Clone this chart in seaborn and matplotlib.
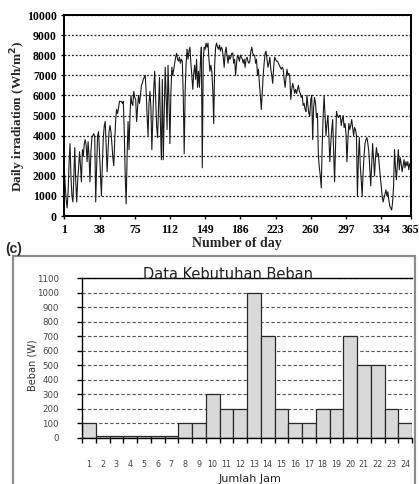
import matplotlib
matplotlib.use("Agg")
import matplotlib.pyplot as plt
import numpy as np
import pandas as pd
import seaborn as sns
from matplotlib.patches import Rectangle

# top panel: daily irradiation (Wh/m2, day 1..365)
IRRADIATION = [
    2300, 1500, 800, 400, 1200, 2600, 3600, 2000, 1000, 700,
    1900, 3400, 1800, 700, 1700, 2400, 3200, 2500, 1700, 3300,
    3000, 3600, 3800, 3500, 2700, 3700, 3000, 1700, 3200, 3900,
    4000, 4100, 3900, 700, 2500, 4000, 4200, 3100, 2000, 1000,
    2600, 3900, 4500, 4700, 3500, 2200, 3300, 4200, 4500, 4200,
    3600, 2900, 2500, 3800, 4800, 5300, 5100, 5400, 5700, 5700,
    5700, 5600, 5700, 4200, 2000, 600, 3000, 4700, 3300, 5000,
    6000, 5600, 5500, 6200, 5900, 5800, 4700, 5400, 6000, 5600,
    6000, 6500, 6600, 6800, 6900, 7000, 6200, 5000, 4000, 5600,
    6200, 5400, 3300, 4800, 6300, 7200, 5800, 4500, 3900, 5400,
    6900, 4600, 2800, 6800, 2800, 5200, 7400, 6000, 4300, 7500,
    5800, 3600, 6100, 7400, 7000, 7300, 7600, 7900, 8100, 7800,
    7700, 7900, 7600, 7800, 7700, 6000, 3100, 6200, 7600, 8300,
    7800, 8200, 8400, 7600, 7000, 6300, 7100, 7500, 6800, 7800,
    6400, 7200, 6400, 7600, 8400, 2400, 7800, 8400, 8300, 8600,
    8400, 8600, 7800, 7200, 7500, 7200, 6300, 4600, 7500, 8400,
    8600, 8400, 8300, 8500, 8200, 8400, 8300, 7900, 7400, 8100,
    8400, 8000, 7600, 8000, 7800, 7900, 8100, 8100, 7600, 7800,
    7000, 7600, 8000, 7900, 7700, 8000, 7900, 7800, 7600, 7800,
    7400, 7800, 7900, 7700, 7600, 7700, 8200, 8400, 8100, 8000,
    8000, 7600, 7800, 7000, 7300, 6600, 6000, 5300, 6200, 7000,
    7600, 8100, 8200, 7800, 7400, 7600, 7900, 7300, 7000, 6600,
    7400, 7900, 7800, 7700, 7700, 7600, 7500, 7400, 7300, 7400,
    7300, 6800, 6400, 6900, 7300, 7000, 7100, 6900, 5800, 6300,
    6600, 6400, 6100, 6300, 6100, 6300, 6500, 6200, 6100, 5900,
    6000, 5500, 5600, 5300, 5200, 6000, 5500, 5100, 5000, 5800,
    6000, 3800, 5400, 5900, 5600, 4900, 5100, 3000, 2400, 2000,
    1400, 3500, 5000, 6000, 5000, 4000, 4600, 5000, 4000, 2700,
    3600, 4300, 4800, 3200, 1700, 3500, 5200, 5000, 4900, 5000,
    5000, 4500, 4800, 5000, 4400, 4600, 4100, 2700, 3800, 4600,
    4300, 4500, 4800, 4400, 4000, 4400, 4300, 4000, 1000, 2800,
    3900, 2500, 1800, 1000, 2200, 3000, 3600, 3800, 3900, 3600,
    3200, 2400, 1500, 2600, 3600, 2800, 2000, 2900, 3400, 3000,
    3100, 2500, 2000, 1500, 1000, 700, 900, 1100, 1300, 1000,
    1200, 800, 500, 400, 300, 700, 1500, 3300, 2400, 1800,
    2600, 3300, 2300, 2900, 2600, 2200, 2500, 2800, 2400, 2700,
    2500, 2700, 2300, 2600, 2600,
]
DAY_TICKS = [1, 38, 75, 112, 149, 186, 223, 260, 297, 334, 365]
IRR_TICKS = [0, 1000, 2000, 3000, 4000, 5000, 6000, 7000, 8000, 9000, 10000]

# bottom panel: load per hour
HOURS = [1, 2, 3, 4, 5, 6, 7, 8, 9, 10, 11, 12,
         13, 14, 15, 16, 17, 18, 19, 20, 21, 22, 23, 24]
LOAD_W = [100, 10, 10, 10, 10, 10, 10, 100, 100, 300, 200, 200,
          1000, 700, 200, 100, 100, 200, 200, 700, 500, 500, 200, 100]
LOAD_TICKS = [0, 100, 200, 300, 400, 500, 600, 700, 800, 900, 1000, 1100]

W, H = 419, 484


def fx(px):
    return px / W


def fy(px):
    return 1 - px / H


sns.set_theme(style="white")
plt.rcParams["font.family"] = ["DejaVu Sans"]

fig = plt.figure(figsize=(W / 100, H / 100), dpi=100)

# ---- top panel
serif = {"family": "Liberation Serif", "weight": "bold"}
ax1 = fig.add_axes([fx(64.3), fy(216), fx(410.7) - fx(64.3), fy(15) - fy(216)])
days = np.arange(1, len(IRRADIATION) + 1)
sns.lineplot(x=days, y=IRRADIATION, ax=ax1, color="#1a1a1a", linewidth=0.8)
ax1.set_xlim(1, 365)
ax1.set_ylim(0, 10000)
ax1.set_xticks(DAY_TICKS)
ax1.set_yticks(IRR_TICKS)
ax1.set_xticklabels([str(d) for d in DAY_TICKS], fontdict=serif, fontsize=8.5)
ax1.set_yticklabels([str(v) for v in IRR_TICKS], fontdict=serif, fontsize=8.5)
ax1.yaxis.grid(True, linestyle=(0, (1.5, 1.5)), color="#222222", linewidth=0.9)
ax1.xaxis.grid(False)
ax1.set_axisbelow(True)
for s in ax1.spines.values():
    s.set_color("black")
    s.set_linewidth(1.4)
ax1.tick_params(axis="both", which="major", length=2.5, width=1, color="black",
                pad=3, labelcolor="black", bottom=True, left=True)
ax1.set_xlabel("")
ax1.set_ylabel("")
fig.text(fx(18), fy(116), "Daily irradiation (Wh/m$^\\mathbf{2}$)", rotation=90,
         ha="center", va="center", fontsize=9.5, **serif)
fig.text(fx(237), fy(243), "Number of day", ha="center", va="center",
         fontsize=10, **serif)

fig.text(fx(5), fy(249), "(c)", ha="left", va="center", fontsize=10,
         fontweight="bold", family="Liberation Sans")

# ---- bottom panel, framed like a spreadsheet chart
fig.patches.append(Rectangle((fx(13), -0.02), fx(415) - fx(13), fy(256) + 0.02,
                             transform=fig.transFigure, fill=False,
                             edgecolor="#8c8c8c", linewidth=1.6))

ax2 = fig.add_axes([fx(82), fy(437.7), fx(412) - fx(82), fy(278.3) - fy(437.7)])
load = pd.DataFrame({"jam": HOURS, "beban": LOAD_W})
sns.barplot(data=load, x="jam", y="beban", ax=ax2, color="#d9d9d9",
            edgecolor="#2a2a2a", linewidth=0.9, width=1.0, saturation=1)
ax2.set_xlim(-0.5, 23.5)
ax2.set_ylim(0, 1100)
ax2.set_yticks(LOAD_TICKS)
ax2.set_yticklabels([str(v) for v in LOAD_TICKS], fontsize=6.2, color="#444444")
ax2.set_xticks(np.arange(-0.5, 24, 1.0))
ax2.set_xticklabels([])
ax2.set_xticks(np.arange(len(HOURS)), minor=True)
ax2.set_xticklabels([str(h) for h in HOURS], minor=True, fontsize=5.8, color="#444444")
ax2.tick_params(axis="x", which="major", direction="out", length=3.6, width=1,
                color="black", bottom=True)
ax2.tick_params(axis="x", which="minor", length=0, pad=16)
ax2.tick_params(axis="y", which="major", direction="out", length=3.6, width=1,
                color="black", left=True, pad=13)
ax2.yaxis.grid(True, linestyle=(0, (3, 2)), color="#555555", linewidth=0.8)
ax2.xaxis.grid(False)
ax2.set_axisbelow(True)
for name, s in ax2.spines.items():
    s.set_color("black")
    s.set_linewidth(1.0)
ax2.spines["right"].set_visible(False)
ax2.set_xlabel("")
ax2.set_ylabel("")

fig.text(fx(228), fy(279), "Data Kebutuhan Beban", ha="center", va="baseline",
         fontsize=10.5, color="#222222")
fig.text(fx(250), fy(479.5), "Jumlah Jam", ha="center", va="center",
         fontsize=8, color="#222222")
fig.text(fx(32), fy(365), "Beban (W)", rotation=90, ha="center", va="center",
         fontsize=7, color="#333333")

fig.savefig("out.png", dpi=100)
